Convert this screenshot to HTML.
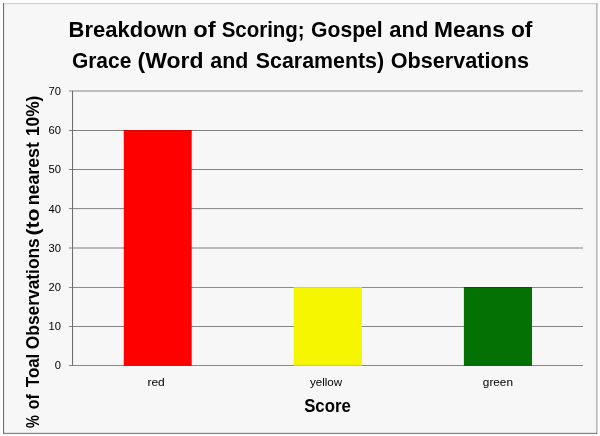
<!DOCTYPE html>
<html>
<head>
<meta charset="utf-8">
<title>Breakdown of Scoring</title>
<style>
html,body{margin:0;padding:0;background:#fcfcfc;}
body{width:600px;height:436px;overflow:hidden;}
svg{display:block;}
text{font-family:"Liberation Sans",sans-serif;fill:#000;}
.b{font-weight:bold;}
.t{fill:#0a0a0a;}
</style>
</head>
<body>
<svg width="600" height="436" viewBox="0 0 600 436">
<rect x="0" y="0" width="600" height="436" fill="#fcfcfc"/>
<rect x="3.5" y="3.5" width="593.5" height="429.8" fill="#f8f7f7"/>
<!-- frame -->
<rect x="3" y="3.15" width="594.4" height="1" fill="#cbcbcb"/>
<rect x="596" y="3" width="1.6" height="430.8" fill="#bab6b6"/>
<rect x="3" y="3" width="1.1" height="430.8" fill="#727272"/>
<rect x="3" y="432.85" width="594" height="1" fill="#6e6c6c"/>
<!-- gridlines -->
<rect x="68.9" y="90.00" width="514.1" height="2" fill="#bebebe"/>
<rect x="68.9" y="130.00" width="514.1" height="1" fill="#838080"/>
<rect x="68.9" y="169.00" width="514.1" height="1" fill="#828282"/>
<rect x="68.9" y="208.05" width="514.1" height="1.1" fill="#8a8a8a"/>
<rect x="68.9" y="247.00" width="514.1" height="2" fill="#bcbaba"/>
<rect x="68.9" y="287.00" width="514.1" height="1" fill="#8c8c8c"/>
<rect x="68.9" y="326.00" width="514.1" height="1" fill="#868686"/>
<rect x="68.9" y="365.00" width="514.1" height="1" fill="#888888"/>
<rect x="72" y="90.8" width="1.05" height="275.2" fill="#6e6e6e"/>
<!-- bars -->
<rect x="123.8" y="130.0" width="67.9" height="235.6" fill="#fe0000"/>
<rect x="123.8" y="130.0" width="67.9" height="1" fill="#d60000"/>
<rect x="123.8" y="364.9" width="67.9" height="0.7" fill="#d60000"/>
<rect x="293.8" y="287.0" width="68.1" height="78.6" fill="#f6f600"/>
<rect x="293.8" y="287.0" width="68.1" height="1" fill="#dede00"/>
<rect x="293.8" y="364.9" width="68.1" height="0.7" fill="#dede00"/>
<rect x="463.9" y="287.0" width="68.1" height="78.6" fill="#037103"/>
<rect x="463.9" y="287.0" width="68.1" height="1" fill="#035a03"/>
<rect x="463.9" y="364.9" width="68.1" height="0.7" fill="#035a03"/>
<!-- title -->
<g class="b">
<text transform="translate(68.57 37.0) scale(1.0344 1)" font-size="21.3">Breakdown</text>
<text transform="translate(193.35 37.0) scale(1.1153 1)" font-size="21.3">of</text>
<text transform="translate(221.64 37.0) scale(0.9617 1)" font-size="21.3">Scoring;</text>
<text transform="translate(311.05 37.0) scale(0.9926 1)" font-size="21.3">Gospel</text>
<text transform="translate(389.34 37.0) scale(1.0312 1)" font-size="21.3">and</text>
<text transform="translate(434.12 37.0) scale(1.0686 1)" font-size="21.3">Means</text>
<text transform="translate(510.89 37.0) scale(1.0738 1)" font-size="21.3">of</text>
<text transform="translate(71.91 67.7) scale(0.9840 1)" font-size="21.3">Grace</text>
<text transform="translate(137.60 67.7) scale(1.0796 1)" font-size="21.3">(Word</text>
<text transform="translate(210.36 67.7) scale(1.0032 1)" font-size="21.3">and</text>
<text transform="translate(255.86 67.7) scale(1.0031 1)" font-size="21.3">Scaraments)</text>
<text transform="translate(390.63 67.7) scale(1.0163 1)" font-size="21.3">Observations</text>
</g>
<!-- y tick labels -->
<g class="t">
<text x="48.46" y="94.9" font-size="11.2">70</text>
<text x="48.46" y="134.4" font-size="11.2">60</text>
<text x="48.46" y="173.4" font-size="11.2">50</text>
<text x="48.46" y="212.5" font-size="11.2">40</text>
<text x="48.46" y="251.9" font-size="11.2">30</text>
<text x="48.46" y="291.4" font-size="11.2">20</text>
<text x="48.46" y="330.4" font-size="11.2">10</text>
<text x="54.73" y="369.4" font-size="11.2">0</text>
</g>
<!-- category labels -->
<g class="t">
<text transform="translate(147.42 385.8) scale(1.0633 1)" font-size="11.3">red</text>
<text transform="translate(309.94 385.8) scale(1.0269 1)" font-size="11.3">yellow</text>
<text transform="translate(482.83 385.8) scale(1.0439 1)" font-size="11.3">green</text>
</g>
<!-- axis titles -->
<g class="b">
<text transform="translate(304.20 412.0) scale(0.9415 1)" font-size="17.8">Score</text>
<text transform="translate(39.2 427.96) rotate(-90) scale(0.7871 1)" font-size="18.3">%</text>
<text transform="translate(39.2 409.23) rotate(-90) scale(0.8634 1)" font-size="18.3">of</text>
<text transform="translate(39.2 387.17) rotate(-90) scale(0.9232 1)" font-size="18.3">Toal</text>
<text transform="translate(39.2 349.19) rotate(-90) scale(0.9491 1)" font-size="18.3">Observations</text>
<text transform="translate(39.2 235.56) rotate(-90) scale(1.1618 1)" font-size="18.3">(to</text>
<text transform="translate(39.2 205.25) rotate(-90) scale(0.9704 1)" font-size="18.3">nearest</text>
<text transform="translate(39.2 136.02) rotate(-90) scale(0.9452 1)" font-size="18.3">10%)</text>
</g>
</svg>
</body>
</html>
